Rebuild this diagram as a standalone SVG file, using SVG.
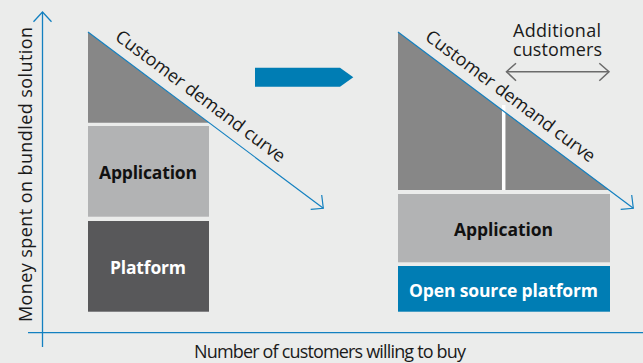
<svg xmlns="http://www.w3.org/2000/svg" width="643" height="363" viewBox="0 0 643 363">
<style>
text { font-family: "Open Sans", "Liberation Sans", sans-serif; }
.lbl { font-size: 18px; fill: #1a1a1a; }
.box { font-size: 17.5px; font-weight: bold; }
.axis { stroke: #1380c0; stroke-width: 1.3; fill: none; }
.curve { stroke: #1380c0; stroke-width: 1.2; fill: none; }
.gray { stroke: #6b6b6b; stroke-width: 1.5; fill: none; }
</style>
<rect x="0" y="0" width="643" height="363" fill="#ebeceb"/>

<g id="left-triangle">
<polygon points="88,32 88,122.7 209,122.7" fill="#878787"/>
</g>
<g id="left-application">
<rect x="88" y="126" width="121" height="90.7" fill="#b2b3b4"/>
<text class="box" x="99" y="179" textLength="98" lengthAdjust="spacing" fill="#111">Application</text>
</g>
<g id="left-platform">
<rect x="88" y="221" width="121" height="90.7" fill="#58585a"/>
<text class="box" x="110" y="274" textLength="76" lengthAdjust="spacing" fill="#fff">Platform</text>
</g>

<g id="transition-arrow">
<polygon points="255,67.7 340,67.7 353.3,77.2 340,86.7 255,86.7" fill="#007db4"/>
</g>

<g id="right-triangle">
<polygon points="398,32 398,190 609,190" fill="#878787"/>
<line x1="503.7" y1="105" x2="503.7" y2="190" stroke="#ffffff" stroke-width="3.5"/>
</g>
<g id="right-application">
<rect x="398" y="194" width="212" height="68.3" fill="#b2b3b4"/>
<text class="box" x="454" y="235.5" textLength="99" lengthAdjust="spacing" fill="#111">Application</text>
</g>
<g id="right-platform">
<rect x="398" y="266" width="212" height="45.7" fill="#007db4"/>
<text class="box" x="409" y="296.5" textLength="189" lengthAdjust="spacing" fill="#fff">Open source platform</text>
</g>

<g id="additional-customers">
<text class="lbl" font-size="18.5" x="513" y="36.7" textLength="88" lengthAdjust="spacing">Additional</text>
<text class="lbl" font-size="18.5" x="513" y="55.7" textLength="89" lengthAdjust="spacing">customers</text>
</g>

<g id="connectors">
<line class="axis" x1="42.5" y1="12" x2="42.5" y2="347"/>
<polyline class="axis" points="33.5,21.7 42.5,12 51.5,21.7"/>
<line class="axis" x1="28" y1="332.7" x2="643" y2="332.7"/>

<line class="curve" x1="88" y1="32" x2="323.3" y2="208.3"/>
<polyline class="curve" points="310.7,209.3 323.3,208.3 321.7,195"/>
<line class="curve" x1="398" y1="32" x2="633.3" y2="208.3"/>
<polyline class="curve" points="620.7,209.3 633.3,208.3 631.7,195"/>

<line class="gray" x1="506.5" y1="71.7" x2="609" y2="71.7"/>
<polyline class="gray" points="516,63.3 506.5,71.7 516,80.7"/>
<polyline class="gray" points="599.3,63.3 609,71.7 599.3,80.7"/>
</g>

<g id="curve-labels">
<text class="lbl" font-size="18.5" textLength="207" lengthAdjust="spacing" transform="translate(114,39) rotate(36.84)">Customer demand curve</text>
<text class="lbl" font-size="18.5" textLength="207" lengthAdjust="spacing" transform="translate(424,39) rotate(36.84)">Customer demand curve</text>
</g>

<g id="axis-labels">
<text class="lbl" font-size="16.5" x="194" y="357.7" textLength="272" lengthAdjust="spacing">Number of customers willing to buy</text>
<text class="lbl" font-size="17.5" textLength="295" lengthAdjust="spacing" transform="translate(32.3,322) rotate(-90)">Money spent on bundled solution</text>
</g>
</svg>
